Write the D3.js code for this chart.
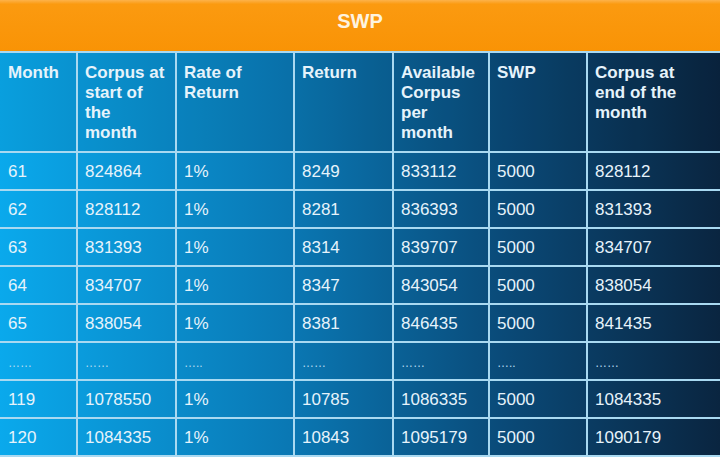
<!DOCTYPE html><html><head><meta charset="utf-8">
<script src="https://cdn.jsdelivr.net/npm/d3@7"></script>
<style>body{margin:0;background:#fff}svg{display:block}</style></head><body>
<svg id="c" width="720" height="457"></svg>
<script>
const title = "SWP";
const headers = [["Month"],["Corpus at","start of","the","month"],["Rate of","Return"],["Return"],["Available","Corpus","per","month"],["SWP"],["Corpus at","end of the","month"]];
const months = ["61","62","63","64","65","……","119","120"];
const corpusStart = ["824864","828112","831393","834707","838054","……","1078550","1084335"];
const rates = ["1%","1%","1%","1%","1%","…..","1%","1%"];
const returns = ["8249","8281","8314","8347","8381","……","10785","10843"];
const available = ["833112","836393","839707","843054","846435","……","1086335","1095179"];
const swp = ["5000","5000","5000","5000","5000","…..","5000","5000"];
const corpusEnd = ["828112","831393","834707","838054","841435","……","1084335","1090179"];
const cols = [months,corpusStart,rates,returns,available,swp,corpusEnd];
const colEdges = [0,77,176,294,393,489,587,720];
const svg = d3.select("#c");
const defs = svg.append("defs");
const g = defs.append("linearGradient").attr("id","bg").attr("x1","0").attr("x2","1");
g.append("stop").attr("offset","0").attr("stop-color","#0aa9ec");
g.append("stop").attr("offset","0.4").attr("stop-color","#0a78b4");
g.append("stop").attr("offset","0.7").attr("stop-color","#0a4a78");
g.append("stop").attr("offset","1").attr("stop-color","#0a2540");
const o = defs.append("linearGradient").attr("id","og").attr("x1","0").attr("x2","0").attr("y1","0").attr("y2","1");
o.append("stop").attr("offset","0").attr("stop-color","#fdb24a");
o.append("stop").attr("offset","0.08").attr("stop-color","#fb9a10");
o.append("stop").attr("offset","1").attr("stop-color","#f99305");
svg.append("rect").attr("width",720).attr("height",457).attr("fill","url(#bg)");
svg.append("rect").attr("width",720).attr("height",52).attr("fill","url(#og)");
svg.append("text").attr("x",360).attr("y",28).attr("text-anchor","middle").attr("font-family","Liberation Sans, Arial").attr("font-weight","bold").attr("font-size",20).attr("fill","#fdf3e0").text(title);
const rowY = d3.scaleLinear().domain([0,8]).range([152,456]);
svg.append("rect").attr("x",0).attr("y",52).attr("width",720).attr("height",100).attr("fill","#000").attr("opacity",0.06);
const font = "Liberation Sans, Arial, sans-serif";
headers.forEach((h,i)=>{
  const t = svg.append("text").attr("x",colEdges[i]+8).attr("y",78).attr("font-family",font).attr("font-weight","bold").attr("font-size",17).attr("fill","#e6f3fb");
  h.forEach((line,j)=>t.append("tspan").attr("x",colEdges[i]+8).attr("dy",j?20:0).text(line));
});
cols.forEach((col,i)=>col.forEach((v,r)=>{
  const dots = v.startsWith("…");
  svg.append("text").attr("x",colEdges[i]+8).attr("y",rowY(r)+25).attr("font-family",font).attr("font-size",dots?12:17).attr("fill",dots?"#b8dcef":"#e6f3fb").text(v);
}));
const line = "#a9d9f1";
colEdges.slice(1,-1).forEach(x=>svg.append("line").attr("x1",x).attr("x2",x).attr("y1",52).attr("y2",457).attr("stroke",line).attr("stroke-width",2));
d3.range(0,9).forEach(r=>svg.append("line").attr("x1",0).attr("x2",720).attr("y1",rowY(r)).attr("y2",rowY(r)).attr("stroke",line).attr("stroke-width",2));
svg.append("line").attr("x1",0).attr("x2",720).attr("y1",52).attr("y2",52).attr("stroke",line).attr("stroke-width",2);
</script></body></html>
